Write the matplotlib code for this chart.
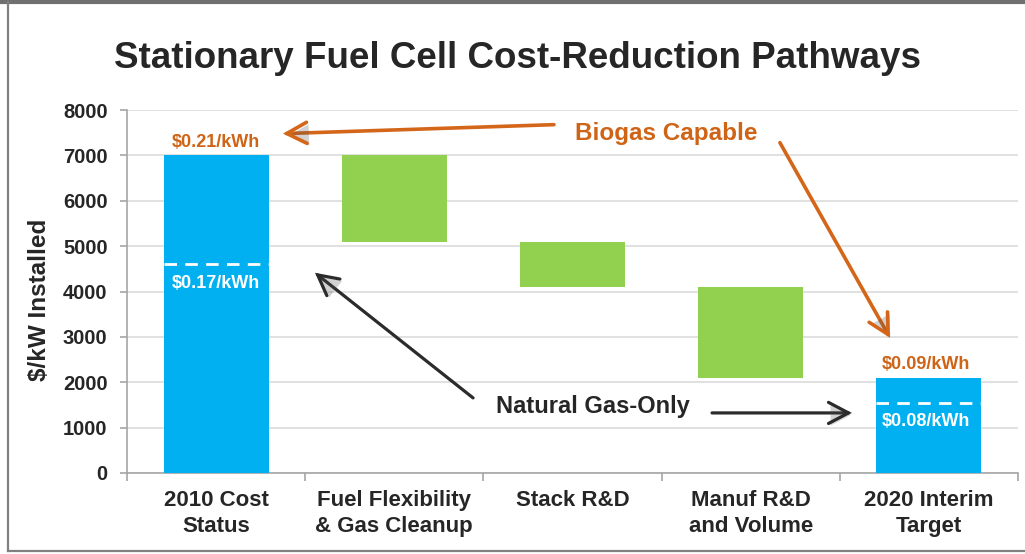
import matplotlib
matplotlib.use("Agg")
import matplotlib.pyplot as plt
import matplotlib.patheffects as pe
from matplotlib.lines import Line2D

plt.rcParams['font.family'] = ['Liberation Sans', 'DejaVu Sans']
plt.rcParams['font.weight'] = 'bold'

# ---- data ----
categories = ['2010 Cost\nStatus', 'Fuel Flexibility\n& Gas Cleanup', 'Stack R&D',
              'Manuf R&D\nand Volume', '2020 Interim\nTarget']
bar_top = [7000, 7000, 5100, 4100, 2100]
bar_bottom = [0, 5100, 4100, 2100, 0]
bar_kind = ['total', 'step', 'step', 'step', 'total']
ng_level = {0: 4600, 4: 1550}            # natural-gas-only cost level (dashed)
biogas_cost = {0: '$0.21/kWh', 4: '$0.09/kWh'}
ng_cost = {0: '$0.17/kWh', 4: '$0.08/kWh'}
yticks = [0, 1000, 2000, 3000, 4000, 5000, 6000, 7000, 8000]

BLUE = '#00B0F0'
GREEN = '#92D050'
ORANGE = '#CF6416'
ORANGE_ARROW = '#D4661A'
DARK = '#262626'
GRID = '#D9D9D9'
SPINE = '#A6A6A6'

fig = plt.figure(figsize=(10.25, 5.54), dpi=100)
W, H = 1025, 554
ax = fig.add_axes([127 / W, 1 - 473 / H, (1018 - 127) / W, (473 - 110) / H])

width = 0.59
xs = list(range(len(categories)))
colors = [BLUE if k == 'total' else GREEN for k in bar_kind]
heights = [t - b for t, b in zip(bar_top, bar_bottom)]
ax.bar(xs, heights, bottom=bar_bottom, width=width, color=colors, zorder=3)

for i, lvl in ng_level.items():
    ax.hlines(lvl, i - width / 2, i + width / 2, colors='white', linewidth=2,
              linestyles=(0, (4.5, 3)), zorder=4)

ax.set_xlim(-0.5, len(categories) - 0.5)
ax.set_ylim(0, 8000)
ax.set_yticks(yticks)
ax.set_yticklabels([str(v) for v in yticks])
ax.yaxis.grid(True, color=GRID, linewidth=1.1, zorder=0)
ax.set_axisbelow(True)

for s in ['top', 'right']:
    ax.spines[s].set_visible(False)
for s in ['left', 'bottom']:
    ax.spines[s].set_color(SPINE)
    ax.spines[s].set_linewidth(1.2)

ax.tick_params(axis='y', colors=SPINE, length=5, width=1.2, pad=9,
               labelsize=14.5, labelcolor=DARK)
ax.set_xticks(xs)
ax.set_xticklabels(categories, fontsize=16, color=DARK, linespacing=1.32)
ax.tick_params(axis='x', length=0, pad=12)
ax.set_xticks([x - 0.5 for x in xs] + [xs[-1] + 0.5], minor=True)
ax.tick_params(axis='x', which='minor', length=6, width=1.2, colors=SPINE)

# cost labels
for i, txt in biogas_cost.items():
    ax.annotate(txt, (i, bar_top[i]), xytext=(-2 if i else 0, 6), textcoords='offset points',
                ha='center', va='baseline', fontsize=13, color=ORANGE, zorder=5)
for i, txt in ng_cost.items():
    ax.annotate(txt, (i, ng_level[i]), xytext=(-2 if i else 0, -17), textcoords='offset points',
                ha='center', va='baseline', fontsize=13, color='white', zorder=5)


def arrow(tail, tip, color, lw):
    a = ax.annotate('', xy=tip, xytext=tail, xycoords='data',
                    arrowprops=dict(arrowstyle='->, head_length=0.72, head_width=0.38',
                                    mutation_scale=20, color=color, lw=lw,
                                    shrinkA=0, shrinkB=0, capstyle='round',
                                    joinstyle='miter'),
                    zorder=6, annotation_clip=False)
    a.arrow_patch.set_path_effects([pe.SimplePatchShadow(offset=(1.5, -1.5), alpha=0.25),
                                    pe.Normal()])


arrow((1.896, 7677), (0.375, 7479), ORANGE_ARROW, 2.6)
arrow((3.164, 7280), (3.782, 2978), ORANGE_ARROW, 2.6)
arrow((1.442, 1655), (0.555, 4412), '#2B2B2B', 2.3)
arrow((2.783, 1324), (3.568, 1324), '#2B2B2B', 2.3)

ax.text(2.525, 7346, 'Biogas Capable', ha='center', va='baseline', fontsize=17.5,
        color=ORANGE, zorder=6)
ax.text(2.115, 1324, 'Natural Gas-Only', ha='center', va='baseline', fontsize=17,
        color=DARK, zorder=6)

# titles
fig.text(518 / W, 1 - 68 / H, 'Stationary Fuel Cell Cost-Reduction Pathways',
         ha='center', va='baseline', fontsize=26.5, color=DARK)
fig.text(40 / W, 1 - 300 / H, '$/kW Installed', rotation=90, ha='center', va='center',
         fontsize=17.5, color=DARK)

# frame border
fig.add_artist(Line2D([0, 1], [1 - 2 / H, 1 - 2 / H], transform=fig.transFigure,
                      color='#707070', linewidth=3))
fig.add_artist(Line2D([8 / W, 8 / W], [1 - 2 / H, 1 - 551 / H], transform=fig.transFigure,
                      color='#808080', linewidth=1.6))
fig.add_artist(Line2D([8 / W, 1], [1 - 551 / H, 1 - 551 / H], transform=fig.transFigure,
                      color='#808080', linewidth=1.6))

fig.savefig('out.png', dpi=100)
